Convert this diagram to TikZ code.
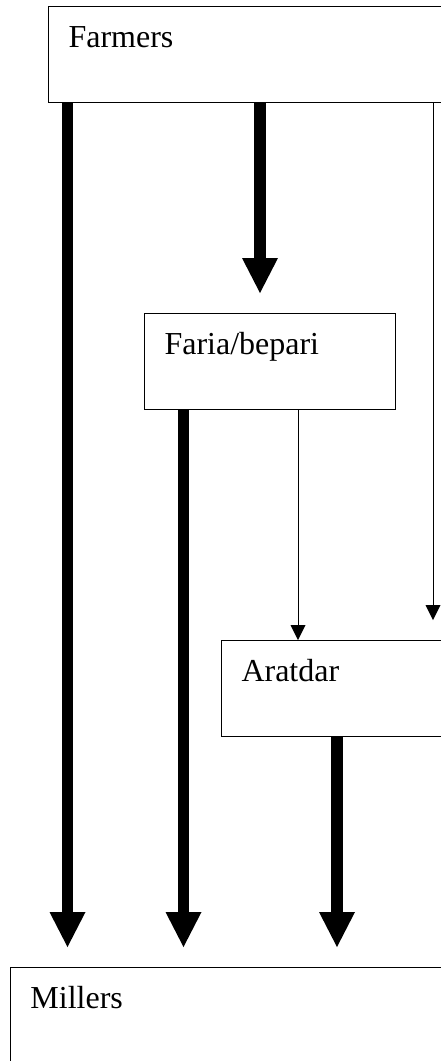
\documentclass[tikz,border=0pt]{standalone}
\usepackage{fontspec}
\setmainfont{Liberation Serif}
\usetikzlibrary{arrows.meta}

\tikzset{
    box/.style={draw, line width=1pt, rectangle, anchor=north west, inner xsep=20pt, inner ysep=0pt,
        text height=41pt, text depth=55pt, align=left, font=\fontsize{32}{38}\selectfont},
    bigflow/.style={line width=11.5pt, shorten >=20pt, -{Triangle[width=36pt,length=35pt,line width=0pt 0 0]}},
    smallflow/.style={line width=1pt, -{Triangle[width=15pt,length=15pt,line width=0pt 0 0]}}
}

\begin{document}
\begin{tikzpicture}[x=1pt, y=-1pt]
                \clip (0,0) rectangle (441,1061);

                \node[box, text width=382pt] (farmers) at (48,6) {Farmers};
                \node[box, text width=211pt] (faria) at (144,313) {Faria/bepari};
                \node[box, text width=209pt] (aratdar) at (221,640) {Aratdar};
                \node[box, text width=420pt, text depth=80pt] (millers) at (10,967) {Millers};

                % columns of the arrows
                \coordinate (c1) at (67.5,0);
                \coordinate (c2) at (260,0);
                \coordinate (c3) at (433,0);
                \coordinate (c4) at (183.5,0);
                \coordinate (c5) at (298,0);
                \coordinate (c6) at (337,0);

                \draw[bigflow] (farmers.south -| c1) -- (millers.north -| c1);
                \draw[bigflow] (farmers.south -| c2) -- (faria.north -| c2);
                \draw[smallflow, shorten >=20pt] (farmers.south -| c3) -- (aratdar.north -| c3);
                \draw[bigflow] (faria.south -| c4) -- (millers.north -| c4);
                \draw[smallflow] (faria.south -| c5) -- (aratdar.north -| c5);
                \draw[bigflow] (aratdar.south -| c6) -- (millers.north -| c6);
            \end{tikzpicture}
\end{document}
